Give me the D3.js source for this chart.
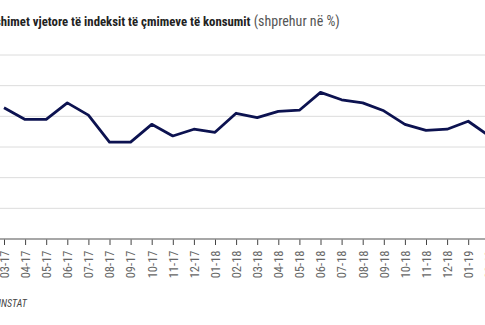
<!DOCTYPE html>
<html><head><meta charset="utf-8">
<script src="https://cdn.jsdelivr.net/npm/d3@7"></script>
<style>
html,body{margin:0;padding:0;background:#fff;overflow:hidden}
svg{display:block}
.cond{font-family:"Liberation Sans Narrow","Roboto Condensed","DejaVu Sans Condensed","Arial Narrow",sans-serif;font-stretch:condensed}
</style></head>
<body>
<svg id="chart" width="485" height="325"></svg>
<script>
const categories = ["03-17","04-17","05-17","06-17","07-17","08-17","09-17","10-17","11-17","12-17",
  "01-18","02-18","03-18","04-18","05-18","06-18","07-18","08-18","09-18","10-18","11-18","12-18",
  "01-19","02-19"];
const values = [2.14,1.95,1.95,2.22,2.02,1.58,1.58,1.87,1.68,1.79,
  1.74,2.05,1.98,2.08,2.10,2.39,2.27,2.22,2.09,1.87,1.77,1.79,
  1.92,1.68];
const yTicks = [0,0.5,1,1.5,2,2.5,3];
const titleBold = "Ndryshimet vjetore të indeksit të çmimeve të konsumit";
const titleRest = " (shprehur në %)";
const source = "Burimi: INSTAT";

const W = 485, H = 325;
const svg = d3.select("#chart");
const x = d3.scalePoint().domain(categories).range([4, 4 + 21.1*(categories.length-1)]);
const y = d3.scaleLinear().domain([0,3]).range([239,55]);

// gridlines
svg.append("g").selectAll("line").data(yTicks.filter(d=>d>0)).join("line")
  .attr("x1",-40).attr("x2",W).attr("y1",d=>y(d)).attr("y2",d=>y(d))
  .attr("stroke","#dcdcdc").attr("stroke-width",1);

// x axis
const xAxis = d3.axisBottom(x).tickSize(6).tickPadding(4);
const gx = svg.append("g").attr("transform",`translate(0,${y(0)})`).call(xAxis);
gx.select(".domain").remove();
gx.append("line").attr("x1",-40).attr("x2",W).attr("stroke","#8a8a8a").attr("stroke-width",1.5);
gx.selectAll(".tick line").attr("stroke","#444").attr("stroke-width",1);
gx.selectAll(".tick text")
  .attr("class","cond")
  .attr("font-size","12.5px").attr("fill","#666")
  .attr("transform","rotate(-90)")
  .attr("text-anchor","end").attr("x",-11.5).attr("y",0).attr("dy","0.35em");

// line
const line = d3.line().x((d,i)=>x(categories[i])).y(d=>y(d));
svg.append("path").datum(values).attr("d",line)
  .attr("fill","none").attr("stroke","#0c1250").attr("stroke-width",2.8)
  .attr("stroke-linejoin","round");

// title
const t = svg.append("text").attr("class","cond").attr("y",26).attr("font-size","12.8px").attr("fill","#222");
t.append("tspan").attr("font-weight","bold").text(titleBold);
t.append("tspan").attr("fill","#555").attr("font-size","14px").text(titleRest);
const probe = svg.append("text").attr("class","cond").attr("font-size","12.8px").attr("font-weight","bold").text("Ndrys");
const pw = probe.node().getComputedTextLength(); probe.remove();
t.attr("x", 0.8 - pw);

// source
const s = svg.append("text").attr("class","cond").attr("y",307).attr("font-size","10px")
  .attr("font-style","italic").attr("fill","#444").text(source);
const probe2 = svg.append("text").attr("class","cond").attr("font-size","10px").attr("font-style","italic").text("Burimi: I");
const pw2 = probe2.node().getComputedTextLength(); probe2.remove();
s.attr("x", 1 - pw2);
</script>
</body></html>
